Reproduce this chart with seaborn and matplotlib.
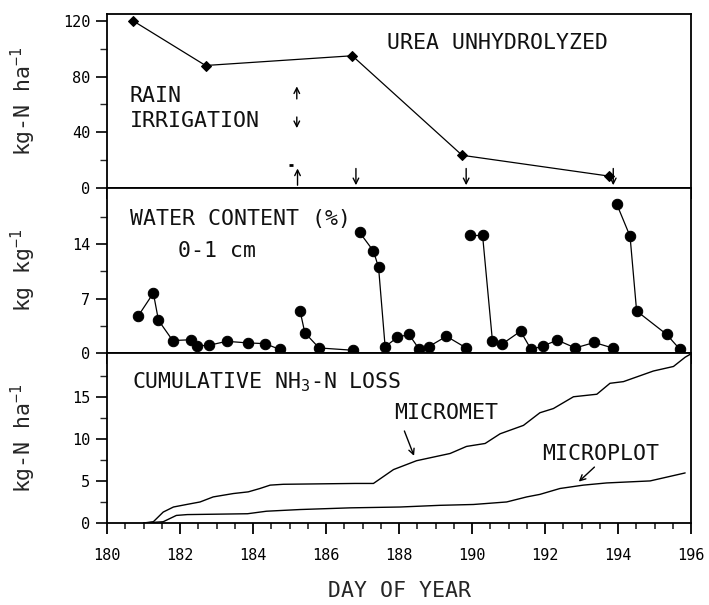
import matplotlib
matplotlib.use("Agg")
import matplotlib.pyplot as plt
import seaborn as sns
import pandas as pd
import numpy as np
from matplotlib.ticker import MultipleLocator, FixedLocator

# ---------------- data ----------------
urea_day = [180.72, 182.70, 186.72, 189.73, 193.74]
urea_val = [120, 88, 95, 23.5, 8.6]

rain_days = [185.22]
irrigation_days = [186.82, 189.84, 193.87]

wc_day = [180.86, 181.27, 181.41, 181.80, 182.29, 182.46, 182.80, 183.28, 183.85, 184.33, 184.74,
          185.29, 185.42, 185.81, 186.75,
          186.92, 187.30, 187.44, 187.62, 187.95, 188.27, 188.56, 188.81, 189.30, 189.84,
          189.95, 190.29, 190.56, 190.81, 191.33, 191.62, 191.94, 192.34, 192.83, 193.35, 193.85,
          193.96, 194.33, 194.51, 195.33, 195.70]
wc_val = [4.8, 7.7, 4.2, 1.6, 1.7, 0.9, 1.0, 1.5, 1.3, 1.2, 0.45,
          5.4, 2.6, 0.65, 0.35,
          15.5, 13.1, 11.0, 0.8, 2.0, 2.4, 0.45, 0.8, 2.15, 0.65,
          15.1, 15.1, 1.55, 1.1, 2.8, 0.45, 0.9, 1.65, 0.65, 1.35, 0.65,
          19.2, 15.0, 5.4, 2.4, 0.45]
wc_segment = [1] * 11 + [2] * 4 + [3] * 10 + [4] * 11 + [5] * 5

micromet_day = [181.0, 181.27, 181.54, 181.82, 182.18, 182.55, 182.91, 183.46, 183.87, 184.19,
                184.47, 184.83, 185.8, 186.8, 187.3, 187.6, 187.85, 188.48, 189.4, 189.85,
                190.36, 190.77, 191.41, 191.86, 192.23, 192.78, 193.42, 193.78, 194.15, 194.97,
                195.52, 195.84, 196.0]
micromet_val = [0.0, 0.15, 1.3, 1.9, 2.2, 2.5, 3.1, 3.5, 3.7, 4.1,
                4.5, 4.6, 4.65, 4.7, 4.7, 5.6, 6.35, 7.4, 8.26, 9.1,
                9.45, 10.6, 11.6, 13.1, 13.6, 15.0, 15.3, 16.6, 16.8, 18.06,
                18.6, 19.7, 20.1]

microplot_day = [181.0, 181.54, 181.9, 182.2, 183.85, 184.37, 185.29, 186.66, 188.03, 189.12,
                 190.04, 190.95, 191.5, 191.86, 192.41, 193.05, 193.69, 194.88, 195.84]
microplot_val = [0.0, 0.15, 0.9, 1.0, 1.1, 1.4, 1.6, 1.8, 1.9, 2.1,
                 2.2, 2.5, 3.1, 3.4, 4.1, 4.5, 4.76, 5.0, 5.95]

urea_ticks = [0, 40, 80, 120]
wc_ticks = [0, 7, 14]
cum_ticks = [0, 5, 10, 15]
day_ticks = [180, 182, 184, 186, 188, 190, 192, 194, 196]

# ---------------- style ----------------
sns.set_style("ticks")
plt.rcParams['font.family'] = ['DejaVu Sans Mono', 'DejaVu Sans']
plt.rcParams['mathtext.fontset'] = 'custom'
plt.rcParams['mathtext.rm'] = 'DejaVu Sans Mono'
plt.rcParams['axes.linewidth'] = 1.3
plt.rcParams['axes.edgecolor'] = 'black'

W, H = 709, 605
fig = plt.figure(figsize=(W / 100, H / 100), dpi=100)
L, R = 107 / W, 691 / W
bounds = [(14, 188), (188, 353), (353, 523)]
axes = []
for top, bot in bounds:
    ax = fig.add_axes([L, 1 - bot / H, R - L, (bot - top) / H])
    axes.append(ax)
ax1, ax2, ax3 = axes

lab_fs = 15.5
tick_fs = 11
txt_color = '#111111'

for ax in axes:
    ax.set_xlim(180, 196)
    ax.set_xticks(day_ticks)
    ax.xaxis.set_minor_locator(MultipleLocator(0.5))
    ax.tick_params(axis='x', which='major', direction='out', length=8, width=1.3,
                   labelsize=tick_fs, colors='black', pad=10)
    ax.tick_params(axis='x', which='minor', direction='out', length=4, width=1.2)
    ax.tick_params(axis='y', which='major', direction='out', length=8, width=1.2,
                   labelsize=tick_fs, colors='black', pad=4)
    ax.tick_params(axis='y', which='minor', direction='out', length=5, width=1.0)
    ax.tick_params(right=False, top=False, which='both')
    for s in ax.spines.values():
        s.set_visible(True)
        s.set_color('black')
    ax.set_facecolor('white')
for ax in (ax1, ax2):
    ax.tick_params(axis='x', labelbottom=False)

arrow_kw = dict(arrowstyle='->', color='black', lw=1.0, mutation_scale=10)

# ---- panel 1: urea unhydrolyzed ----
df1 = pd.DataFrame({'day': urea_day, 'val': urea_val})
sns.lineplot(data=df1, x='day', y='val', ax=ax1, color='black', marker='D',
             markersize=5.5, linewidth=0.9, markeredgecolor='black', sort=False, estimator=None)
ax1.set_ylim(0, 125)
ax1.set_yticks(urea_ticks)
ax1.yaxis.set_minor_locator(FixedLocator([20, 60, 100]))
for d in rain_days:
    ax1.annotate('', xy=(d, 16), xytext=(d, 0), arrowprops=arrow_kw)
ax1.plot([185.04], [16.8], marker='_', color='black', markersize=3, mew=2)
for d in irrigation_days:
    ax1.annotate('', xy=(d, 0), xytext=(d, 16), arrowprops=arrow_kw)
# legend arrows
ax1.annotate('', xy=(185.2, 75), xytext=(185.2, 62), arrowprops=arrow_kw)
ax1.annotate('', xy=(185.2, 41), xytext=(185.2, 53), arrowprops=arrow_kw)
ax1.text(0.039, 0.529, 'RAIN', transform=ax1.transAxes, fontsize=lab_fs, va='center',
         ha='left', color=txt_color)
ax1.text(0.039, 0.385, 'IRRIGATION', transform=ax1.transAxes, fontsize=lab_fs, va='center',
         ha='left', color=txt_color)
ax1.text(0.668, 0.833, 'UREA UNHYDROLYZED', transform=ax1.transAxes, fontsize=lab_fs,
         va='center', ha='center', color=txt_color)
ax1.set_xlabel('')
ax1.set_ylabel('kg-N ha$^{\\mathregular{-1}}$', fontsize=lab_fs)

# ---- panel 2: water content ----
df2 = pd.DataFrame({'day': wc_day, 'val': wc_val, 'seg': wc_segment})
sns.lineplot(data=df2, x='day', y='val', units='seg', estimator=None, ax=ax2, color='black',
             marker='o', markersize=7.5, linewidth=0.9, markeredgecolor='black', sort=False)
ax2.set_ylim(0, 21.2)
ax2.set_yticks(wc_ticks)
ax2.yaxis.set_minor_locator(FixedLocator([3.5, 10.5, 17.5]))
ax2.text(0.039, 0.812, 'WATER CONTENT (%)', transform=ax2.transAxes, fontsize=lab_fs,
         va='center', ha='left', color=txt_color)
ax2.text(0.122, 0.618, '0-1 cm', transform=ax2.transAxes, fontsize=lab_fs, va='center',
         ha='left', color=txt_color)
ax2.set_xlabel('')
ax2.set_ylabel('kg kg$^{\\mathregular{-1}}$', fontsize=lab_fs)

# ---- panel 3: cumulative NH3-N loss ----
df3a = pd.DataFrame({'day': micromet_day, 'val': micromet_val})
df3b = pd.DataFrame({'day': microplot_day, 'val': microplot_val})
sns.lineplot(data=df3a, x='day', y='val', ax=ax3, color='black', linewidth=1.0,
             sort=False, estimator=None)
sns.lineplot(data=df3b, x='day', y='val', ax=ax3, color='black', linewidth=1.0,
             sort=False, estimator=None)
ax3.set_ylim(0, 20.2)
ax3.set_yticks(cum_ticks)
ax3.yaxis.set_minor_locator(FixedLocator([2.5, 7.5, 12.5, 17.5]))
ax3.text(0.043, 0.83, 'CUMULATIVE NH$_{\\mathregular{3}}$-N LOSS', transform=ax3.transAxes,
         fontsize=lab_fs, va='center', ha='left', color=txt_color)
ax3.text(187.88, 11.9, 'MICROMET', fontsize=lab_fs, va='bottom', ha='left', color=txt_color)
ax3.annotate('', xy=(188.44, 7.67), xytext=(188.12, 11.24), arrowprops=arrow_kw)
ax3.text(191.92, 8.2, 'MICROPLOT', fontsize=lab_fs, va='center', ha='left', color=txt_color)
ax3.annotate('', xy=(192.87, 4.69), xytext=(193.41, 6.87), arrowprops=arrow_kw)
ax3.set_xlabel('DAY OF YEAR', fontsize=lab_fs, labelpad=13)
ax3.set_ylabel('kg-N ha$^{\\mathregular{-1}}$', fontsize=lab_fs)

for ax in axes:
    ax.yaxis.set_label_coords(-0.118, 0.5)

fig.savefig('out.png', dpi=100, facecolor='white')
